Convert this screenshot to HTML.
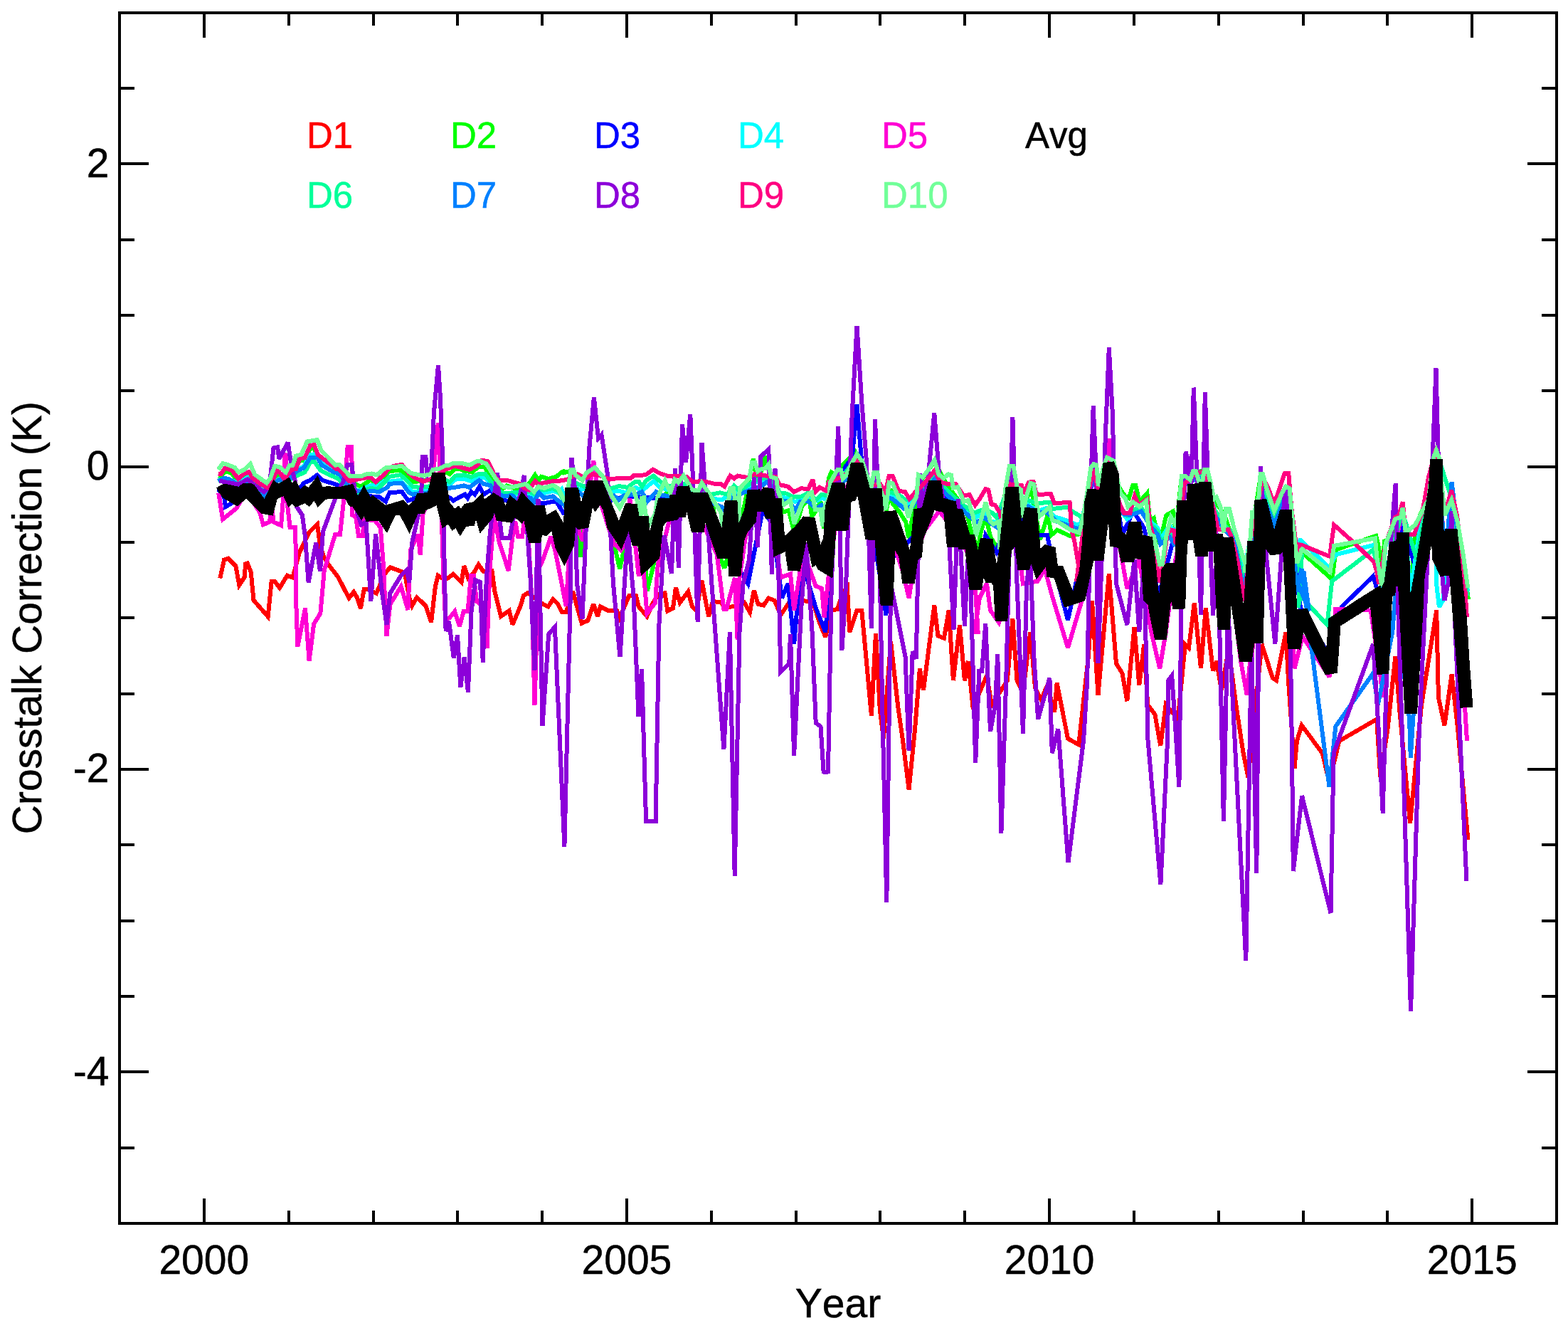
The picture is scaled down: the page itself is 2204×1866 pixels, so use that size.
<!DOCTYPE html>
<html lang="en"><head><meta charset="utf-8"><title>Crosstalk Correction</title>
<style>
html,body{margin:0;padding:0;background:#fff;}
body{width:2204px;height:1866px;overflow:hidden;}
svg{display:block;}
text{font-family:"Liberation Sans",Arial,Helvetica,sans-serif;font-kerning:none;stroke-width:0.5px;}
.t{font-size:57px;fill:#000;stroke:#000;}
.lg{font-size:51px;}
.s{fill:none;stroke-width:6;stroke-linejoin:miter;stroke-miterlimit:3;stroke-linecap:butt;}
</style></head><body>
<svg width="2204" height="1866" viewBox="0 0 2204 1866">
<rect width="2204" height="1866" fill="#fff"/>
<g class="s" shape-rendering="crispEdges">
<polyline id="D1" points="309.3,812.5 315.1,786.5 320.8,784.6 331.4,795.2 336.3,822.2 344.0,810.6 344.9,792.3 347.8,791.3 352.7,803.9 356.5,843.4 376.7,866.5 381.6,817.3 386.4,817.3 393.1,826.0 403.7,808.7 411.4,811.6 421.1,775.9 434.6,748.0 446.1,736.4 450.0,768.2 455.8,783.6 461.6,793.3 475.1,810.6 490.5,840.5 497.2,831.8 502.0,839.5 506.9,854.9 511.7,828.0 517.5,828.0 529.0,833.7 540.6,806.7 548.3,797.1 563.7,802.9 569.5,808.7 575.3,839.5 579.2,851.1 585.9,839.5 598.4,851.1 606.1,874.2 611.9,824.1 615.8,808.7 621.6,812.5 629.3,812.5 637.0,806.7 648.6,818.3 652.4,795.2 658.2,812.5 665.9,804.8 672.7,793.3 679.4,802.9 691.6,802.4 695.4,831.3 704.1,866.0 715.7,858.3 720.5,877.6 732.0,850.6 735.9,837.1 741.7,833.3 753.3,841.0 762.9,848.7 770.6,852.5 777.3,841.9 784.1,848.7 789.9,860.2 795.7,860.2 805.3,831.3 811.1,852.5 817.8,875.7 826.5,871.8 834.2,848.7 840.0,866.0 843.9,852.5 855.4,858.3 867.0,858.3 870.8,868.0 884.3,837.1 894.0,837.1 897.8,852.5 909.4,866.0 917.1,848.7 924.8,835.2 934.5,833.3 938.3,858.3 946.0,854.5 949.9,825.5 955.7,846.7 967.2,831.3 973.0,852.5 978.8,858.3 986.5,815.9 992.3,846.7 996.1,866.0 1001.9,844.8 1013.5,846.7 1019.3,854.5 1036.6,850.6 1046.3,846.7 1054.0,860.2 1059.8,829.4 1065.5,848.7 1073.3,850.6 1080.3,840.5 1088.8,843.9 1097.3,864.4 1107.6,849.0 1116.1,854.1 1129.7,843.9 1143.3,847.3 1151.8,874.6 1160.3,895.0 1168.8,857.6 1177.3,855.9 1184.1,833.7 1190.9,825.2 1194.3,888.2 1204.5,857.6 1211.3,857.6 1224.9,1005.5 1231.0,889.9 1236.8,997.0 1241.9,1037.8 1252.1,901.8 1262.3,993.6 1269.1,1041.2 1277.6,1109.6 1286.1,1024.2 1292.9,939.2 1298.0,969.8 1313.3,850.7 1318.4,893.3 1326.9,896.7 1333.7,857.6 1339.9,956.2 1349.0,878.0 1355.9,956.2 1361.0,929.0 1367.8,997.0 1376.8,973.2 1387.0,949.4 1393.8,990.2 1415.9,956.2 1423.4,869.5 1429.5,956.2 1438.0,973.2 1448.2,888.2 1455.0,966.4 1463.5,983.4 1472.0,963.0 1482.2,1000.4 1485.6,959.6 1501.0,1037.8 1516.3,1046.3 1529.9,922.2 1535.0,843.9 1543.5,976.6 1558.8,806.5 1569.0,932.4 1577.5,946.0 1584.3,985.1 1594.5,881.4 1601.3,963.0 1608.1,905.2 1613.2,990.2 1623.4,1003.8 1631.2,1048.0 1638.7,990.2 1655.7,1010.6 1665.9,905.2 1671.0,910.3 1678.8,847.3 1688.0,939.2 1694.8,854.1 1705.0,942.6 1710.1,929.0 1716.9,969.8 1727.1,912.0 1737.3,990.2 1747.6,1058.2 1754.4,1092.2 1773.6,905.2 1788.9,952.8 1794.0,956.2 1807.6,888.2 1811.0,956.2 1819.5,1080.0 1822.9,1041.2 1829.7,1019.1 1858.6,1058.2 1868.5,1098.4 1882.4,1041.2 1935.2,1010.6 1940.3,1092.2 1950.5,1024.2 1961.4,922.2 1967.5,1000.4 1982.1,1156.9 1998.1,990.2 2019.2,857.6 2021.9,980.0 2030.4,1019.1 2040.6,947.7 2049.1,1024.2 2063.4,1179.7" stroke="#ff0000"/>
<polyline id="D2" points="306.8,669.2 310.6,669.8 316.8,661.7 326.2,665.5 333.7,676.1 342.4,669.2 349.9,666.7 356.1,677.3 369.8,687.3 377.3,689.8 383.6,679.8 389.8,667.3 394.8,669.8 402.3,678.6 409.8,666.1 414.8,663.6 419.8,648.0 427.2,646.7 436.0,630.5 441.6,629.9 447.2,642.4 458.4,652.4 474.6,661.1 489.6,677.3 498.3,679.8 507.1,683.6 522.1,673.6 529.5,682.9 545.8,663.6 546.2,662.3 562.5,660.5 568.7,664.8 581.2,677.3 589.9,676.1 602.4,674.8 614.9,669.8 627.3,663.6 632.3,666.1 639.8,658.6 646.0,658.6 651.0,661.1 663.5,663.6 672.2,656.1 681.0,655.5 684.7,662.3 693.5,677.3 704.7,688.5 712.2,682.3 727.1,687.3 732.1,688.5 744.6,678.6 752.1,667.3 757.1,674.8 760.8,669.8 770.8,672.9 782.0,669.8 789.5,663.6 794.5,661.1 790.0,664.9 800.0,662.4 805.0,684.9 812.5,747.2 816.2,782.2 819.9,747.2 827.4,684.9 839.9,679.9 852.4,697.3 863.6,765.9 871.1,799.6 879.8,759.7 884.8,722.3 896.0,768.4 902.3,734.8 909.8,830.1 918.5,794.6 922.2,722.3 933.5,696.1 952.2,679.9 970.9,684.9 989.6,697.3 1002.1,709.8 1013.3,785.9 1018.3,798.4 1022.1,785.9 1027.0,697.3 1034.5,709.8 1039.5,732.3 1046.2,711.1 1053.7,671.2 1058.7,645.0 1063.7,672.4 1069.9,662.4 1076.2,641.2 1083.7,672.4 1092.4,689.9 1099.9,719.8 1108.6,717.3 1114.9,742.3 1119.8,737.3 1127.3,711.1 1137.3,699.9 1141.1,726.1 1147.3,717.3 1153.5,704.9 1158.5,742.3 1164.8,672.4 1168.5,663.7 1172.2,666.2 1177.2,661.2 1202.2,635.0 1224.6,684.9 1230.9,664.9 1239.6,692.4 1245.9,717.3 1252.1,686.1 1254.6,707.4 1264.6,719.8 1273.3,733.6 1277.0,756.0 1282.0,729.8 1289.5,698.6 1296.7,672.2 1313.5,648.1 1330.3,680.3 1350.5,707.2 1359.9,724.6 1365.2,747.5 1374.6,771.7 1378.7,747.5 1385.4,724.6 1392.1,754.2 1404.2,774.4 1413.6,684.3 1424.4,656.1 1437.8,727.3 1448.5,680.3 1462.0,758.2 1472.7,723.3 1478.1,751.5 1486.2,744.8 1503.6,752.9 1518.4,750.2 1529.2,687.0 1537.2,653.4 1543.9,684.3 1556.0,644.0 1574.8,687.8 1581.5,697.2 1586.9,699.9 1592.2,682.4 1596.3,682.4 1601.7,705.2 1612.4,693.1 1616.4,732.1 1621.8,728.1 1629.9,764.4 1639.3,724.0 1648.7,718.7 1652.7,745.5 1660.8,670.3 1680.9,663.6 1694.4,660.9 1707.8,703.9 1721.2,724.0 1737.4,772.4 1749.4,815.4 1758.8,750.9 1772.3,667.6 1791.1,716.0 1799.2,713.3 1812.6,687.8 1815.3,717.3 1823.3,793.9 1832.1,777.8 1872.4,814.1 1877.8,772.4 1934.2,752.9 1936.9,764.4 1942.3,793.9 1946.3,760.3 1951.7,759.0 1967.8,728.1 1975.9,750.9 1982.6,834.2 1990.6,736.1 2008.1,697.2 2018.8,634.0 2030.9,724.0 2040.3,703.9 2056.5,777.8 2061.8,827.5 2063.9,842.3" stroke="#00ff00"/>
<polyline id="D3" points="306.8,687.3 315.6,699.8 316.8,712.2 327.4,706.0 339.9,699.8 352.4,692.3 364.9,704.8 377.3,711.0 387.3,692.3 396.0,689.8 408.5,692.3 422.2,684.8 427.2,678.6 436.0,674.8 445.9,667.3 453.4,674.8 477.1,682.3 489.6,692.3 502.1,698.5 520.8,697.3 533.3,698.5 542.0,704.8 547.5,692.3 565.0,691.0 573.7,703.5 581.2,701.0 589.9,698.5 614.9,698.5 631.1,698.5 637.3,703.5 643.6,699.8 653.5,694.8 657.3,699.8 662.3,691.0 667.3,694.8 674.1,683.6 679.7,694.8 689.7,688.5 697.2,698.5 714.7,704.8 733.4,704.8 752.1,706.0 764.6,707.3 777.0,704.8 782.0,704.8 792.0,721.0 878.0,697.7 946.0,701.1 980.0,718.1 1014.0,752.1 1031.0,786.1 1051.4,820.1 1061.6,769.1 1071.8,718.1 1085.4,735.1 1099.0,840.5 1107.6,820.1 1116.1,905.2 1126.3,786.1 1146.7,854.1 1160.3,888.2 1170.5,752.1 1187.5,656.9 1197.7,643.3 1204.5,568.4 1211.3,650.1 1224.9,735.1 1243.6,850.7 1245.3,864.4 1252.1,786.1 1286.1,752.1 1320.1,684.1 1354.1,752.1 1374.6,786.1 1370.0,833.7 1385.3,752.1 1400.6,775.9 1424.4,701.1 1448.2,752.1 1472.0,752.1 1478.8,786.1 1501.0,871.2 1519.7,786.1 1540.1,701.1 1558.8,633.1 1577.5,752.1 1592.8,718.1 1608.1,741.9 1628.5,837.1 1642.1,786.1 1659.1,718.1 1693.1,684.1 1710.1,752.1 1730.5,786.1 1744.1,820.1 1770.2,718.1 1790.6,752.1 1807.6,701.1 1828.0,854.1 1865.4,915.4 1885.9,852.4 1930.1,809.9 1943.7,854.1 1970.9,735.1 1991.3,803.1 2018.5,633.1 2040.6,701.1 2062.7,837.1" stroke="#0000ff"/>
<polyline id="D4" points="306.8,673.6 321.2,673.6 334.9,678.6 349.9,669.8 359.9,683.6 374.8,691.0 384.8,676.1 393.6,672.9 402.3,678.6 409.8,668.6 418.5,659.8 427.2,654.9 436.0,639.3 445.3,637.4 452.2,649.9 464.7,659.8 477.1,667.3 482.1,672.9 492.1,683.6 503.3,689.8 522.1,681.7 530.8,683.6 539.5,676.1 547.5,676.7 562.5,674.8 571.2,683.6 579.9,691.0 588.7,691.0 602.4,689.8 614.9,686.0 627.3,679.8 632.3,681.1 639.8,673.6 652.3,672.9 662.3,676.1 672.2,671.1 682.2,671.1 689.7,679.8 694.7,687.3 707.2,696.0 720.9,694.8 732.1,693.5 744.6,694.8 752.1,699.8 758.3,691.0 764.6,692.9 777.0,689.8 784.5,692.3 789.5,687.3 796.2,708.6 802.5,679.9 815.0,688.6 827.4,684.9 839.9,684.9 859.9,691.1 869.8,689.8 879.8,692.3 893.6,684.9 902.3,689.8 918.5,676.1 926.0,683.6 939.7,688.6 952.2,684.9 964.7,684.9 977.1,694.8 989.6,694.8 1004.6,701.1 1014.6,702.3 1022.1,697.3 1034.5,689.8 1040.0,692.4 1053.7,682.4 1065.0,676.2 1077.4,673.7 1089.9,683.6 1098.6,698.0 1109.9,701.1 1117.4,704.9 1127.3,702.4 1137.3,697.4 1148.5,703.6 1156.0,699.9 1162.3,702.4 1171.0,677.4 1183.5,674.9 1202.2,648.7 1220.9,683.6 1239.6,693.6 1254.6,696.1 1264.6,702.4 1272.1,708.6 1283.3,704.9 1295.8,683.6 1296.7,687.0 1313.5,669.6 1330.3,691.1 1350.5,709.9 1370.6,727.3 1384.0,720.6 1392.1,732.7 1401.5,734.0 1413.6,696.4 1424.4,677.6 1437.8,704.5 1459.3,717.9 1471.4,713.9 1482.1,726.0 1499.6,731.4 1511.7,736.7 1518.4,738.1 1529.2,696.4 1537.2,669.6 1545.3,689.7 1556.0,656.1 1574.8,716.0 1584.2,729.4 1593.6,721.4 1604.3,716.0 1619.1,734.8 1627.2,741.5 1631.2,757.6 1644.6,737.5 1651.4,750.9 1660.8,681.1 1680.9,670.3 1694.4,667.6 1707.8,721.4 1721.2,741.5 1734.7,748.2 1748.1,804.7 1758.8,750.9 1772.3,686.4 1788.4,724.0 1791.1,729.4 1807.2,694.5 1815.3,726.7 1823.3,791.2 1827.4,759.0 1828.1,759.0 1868.4,797.9 1877.8,779.1 1931.5,765.7 1935.5,791.2 1942.3,826.2 1947.6,767.0 1961.1,732.1 1971.8,716.0 1975.9,750.9 1982.6,831.5 1994.7,750.9 2008.1,697.2 2018.8,635.4 2018.8,818.1 2022.9,853.0 2028.3,843.6 2040.3,705.2 2056.5,784.5 2063.2,831.5" stroke="#00ffff"/>
<polyline id="D5" points="307.3,693.0 313.1,729.6 332.4,714.2 346.1,691.1 365.2,720.0 370.0,737.3 378.7,733.5 382.5,714.2 384.5,733.5 395.1,738.3 398.0,700.7 400.3,637.1 402.2,641.0 403.7,706.5 407.6,741.2 415.3,741.2 416.3,849.2 418.4,908.5 429.0,854.6 434.6,928.6 441.1,876.9 450.4,861.7 455.8,801.0 471.2,750.8 478.0,750.8 482.8,706.5 488.6,628.4 494.3,628.4 495.3,723.9 500.1,725.8 504.0,752.8 509.8,752.8 511.7,729.6 527.1,731.6 534.8,741.2 538.7,791.3 543.5,893.5 548.3,849.2 563.7,824.1 573.4,856.9 577.2,772.0 587.8,750.8 590.7,779.8 594.6,721.9 606.1,694.9 615.8,594.0 620.0,700.0 623.0,800.0 626.0,870.0 632.0,868.0 639.2,859.0 645.9,880.0 651.7,859.0 657.5,859.0 662.0,809.0 666.0,809.0 670.0,845.0 676.0,850.0 684.5,911.0 688.5,800.0 694.5,723.0 701.2,760.0 714.7,802.0 720.5,754.0 724.3,733.0 728.2,754.0 734.0,754.0 737.8,725.0 743.0,760.0 748.0,854.0 751.5,991.0 757.0,800.0 762.9,787.0 774.5,754.0 780.2,773.0 788.0,812.0 795.7,852.0 798.6,802.0 803.0,700.0 815.0,750.0 819.0,760.0 827.0,700.0 834.2,647.0 842.0,700.0 863.0,764.0 872.8,773.0 878.5,764.0 885.3,700.0 893.9,773.0 897.8,810.0 902.0,770.0 909.4,862.0 921.0,847.0 924.8,793.0 940.0,735.0 960.0,700.0 990.0,740.0 1007.7,779.0 1017.4,856.0 1021.0,856.0 1033.0,812.0 1036.6,899.0 1039.5,812.0 1048.0,754.0 1065.0,715.0 1082.0,704.8 1097.3,811.6 1111.0,806.5 1116.1,857.6 1124.6,803.1 1133.1,786.1 1146.7,823.5 1155.2,826.9 1158.6,867.8 1165.4,803.1 1177.3,718.1 1197.7,667.1 1204.5,650.1 1218.1,684.1 1231.7,735.1 1252.1,752.1 1269.1,803.1 1277.6,840.5 1286.1,786.1 1299.7,745.3 1320.1,718.1 1347.3,752.1 1364.4,786.1 1371.2,830.3 1374.6,888.2 1370.0,888.2 1376.8,840.5 1387.0,820.1 1392.1,857.6 1404.0,874.6 1410.8,854.1 1424.4,718.1 1438.0,820.1 1458.4,816.7 1468.6,799.7 1478.8,837.1 1501.0,910.3 1519.7,847.3 1540.1,752.1 1558.8,616.1 1574.1,769.1 1584.3,826.9 1601.3,786.1 1618.3,888.2 1630.2,939.2 1638.7,888.2 1652.3,786.1 1676.1,684.1 1710.1,752.1 1730.5,820.1 1744.1,929.0 1752.7,976.6 1757.8,922.2 1760.0,922.2 1770.2,718.1 1790.6,765.0 1807.6,718.1 1819.5,939.2 1828.0,905.2 1831.4,895.0 1868.8,951.1 1877.3,855.9 1926.7,857.6 1940.3,949.4 1943.7,980.0 1950.5,820.1 1970.9,718.1 1991.3,786.1 2004.9,718.1 2018.5,626.3 2032.1,786.1 2040.6,690.9 2059.3,997.0 2062.0,1041.2" stroke="#ff00d4"/>
<polyline id="D6" points="306.8,674.8 321.2,674.8 334.9,679.8 349.9,672.3 359.9,684.8 374.8,692.3 384.8,677.3 393.6,674.8 402.3,679.8 409.8,672.3 419.8,667.3 428.5,663.6 436.0,649.9 441.6,648.6 450.9,661.1 463.4,667.3 477.1,673.6 480.9,681.1 492.1,687.3 503.3,692.3 520.8,686.0 530.8,687.3 539.5,678.6 547.5,669.8 562.5,667.3 568.7,672.3 579.9,683.6 588.7,684.8 602.4,683.6 614.9,679.8 627.3,674.8 632.3,677.3 639.8,668.6 652.3,667.3 662.3,670.5 672.2,666.1 682.2,666.1 689.7,676.1 694.7,683.6 707.2,693.5 720.9,692.3 732.1,691.0 744.6,691.0 752.1,694.8 758.3,687.3 764.6,688.5 777.0,686.0 784.5,689.8 793.3,704.8 796.2,704.8 802.5,672.4 808.7,678.6 821.2,683.6 839.9,679.9 859.9,686.1 869.8,683.0 882.3,684.9 892.3,677.4 898.5,677.4 902.3,683.6 908.5,674.9 918.5,668.6 929.7,678.0 939.7,683.6 952.2,679.9 964.7,679.9 977.1,689.8 989.6,689.8 999.6,694.8 1012.1,692.3 1022.1,694.8 1032.0,682.4 1040.0,689.9 1053.7,679.9 1065.0,673.7 1077.4,671.2 1089.9,679.9 1096.1,692.4 1106.1,693.6 1114.9,698.6 1127.3,697.4 1136.1,692.4 1147.3,702.4 1154.8,694.9 1162.3,696.1 1171.0,673.7 1183.5,671.2 1202.2,645.0 1220.9,679.9 1239.6,689.9 1254.6,692.4 1264.6,696.1 1272.1,702.4 1283.3,699.9 1295.8,679.9 1296.7,684.3 1313.5,666.9 1330.3,688.4 1350.5,707.2 1369.3,720.6 1384.0,715.2 1394.8,720.6 1401.5,727.3 1413.6,693.7 1424.4,673.6 1437.8,700.5 1457.9,707.2 1475.4,705.8 1478.1,715.2 1500.9,712.6 1506.3,717.9 1519.7,726.0 1522.4,734.0 1529.2,693.7 1537.2,666.9 1545.3,687.0 1556.0,653.4 1574.8,713.3 1584.2,724.0 1593.6,716.0 1604.3,713.3 1617.8,737.5 1627.2,745.5 1631.2,761.7 1644.6,750.9 1651.4,764.4 1660.8,677.0 1680.9,667.6 1694.4,664.9 1707.8,717.3 1721.2,737.5 1734.7,750.9 1748.1,818.1 1758.8,750.9 1772.3,683.7 1791.1,724.0 1807.2,690.5 1815.3,724.0 1823.3,804.7 1830.1,777.8 1824.6,854.1 1828.0,837.1 1865.4,878.0 1872.2,816.7 1930.1,772.5 1943.7,820.1 1970.9,718.1 1991.3,786.1 2018.5,633.1 2040.6,701.1 2062.7,837.1" stroke="#00ff99"/>
<polyline id="D7" points="306.8,676.1 315.0,671.7 321.2,672.9 334.9,681.1 349.9,674.8 359.9,686.0 372.3,698.5 384.8,678.6 393.6,673.6 402.3,679.8 409.8,669.8 418.5,661.1 427.2,657.4 436.0,643.0 445.9,642.4 452.2,653.6 464.7,661.1 478.4,667.3 482.1,673.6 492.1,686.0 502.1,689.8 512.1,692.3 520.8,689.8 533.3,691.0 544.5,684.8 547.5,679.8 565.0,678.6 574.9,692.3 579.9,694.8 587.4,693.5 602.4,692.3 614.9,689.8 629.8,686.0 643.6,684.2 652.3,682.3 659.8,684.8 673.5,674.8 679.7,679.8 689.7,682.3 693.5,689.8 707.2,697.3 719.7,696.0 727.1,702.3 734.6,697.3 745.9,699.8 750.8,706.0 757.1,692.3 764.6,699.8 777.0,697.3 784.5,703.5 793.3,709.8 796.2,716.0 802.5,689.8 813.7,691.1 818.7,696.1 827.4,691.1 839.9,691.1 862.4,696.1 869.8,702.3 877.3,696.1 893.6,694.8 902.3,691.1 909.8,704.8 922.2,691.1 927.2,694.8 939.7,697.3 952.2,691.1 964.7,691.1 977.1,699.8 989.6,701.1 1002.1,707.3 1014.6,712.3 1018.3,717.3 1027.0,699.8 1034.5,697.3 1040.0,694.9 1047.5,691.1 1071.2,682.4 1077.4,677.4 1089.9,687.4 1099.9,703.6 1109.9,704.9 1117.4,717.3 1124.8,704.9 1134.8,703.6 1147.3,714.8 1154.8,709.8 1159.8,714.8 1171.0,682.4 1183.5,679.9 1202.2,655.0 1220.9,687.4 1239.6,697.4 1254.6,701.1 1264.6,709.8 1270.8,714.8 1283.3,711.1 1295.8,687.4 1296.7,693.7 1313.5,673.6 1329.0,693.7 1350.5,712.6 1357.2,720.6 1372.0,734.0 1384.0,727.3 1394.8,736.7 1402.9,742.1 1413.6,700.5 1424.4,680.3 1437.8,707.2 1460.6,720.6 1471.4,719.3 1484.8,732.7 1500.9,738.1 1515.7,743.5 1522.4,736.7 1529.2,700.5 1537.2,673.6 1545.3,693.7 1556.0,660.2 1574.8,718.7 1580.2,722.7 1588.2,724.0 1604.3,718.7 1617.8,740.2 1627.2,750.9 1631.2,764.4 1644.6,755.0 1651.4,767.0 1660.8,683.7 1680.9,673.0 1694.4,670.3 1707.8,724.0 1721.2,744.2 1734.7,757.6 1748.1,831.5 1758.8,757.6 1772.3,690.5 1791.1,737.5 1807.2,697.2 1815.3,730.8 1823.3,831.5 1828.7,802.0 1832.7,804.7 1840.0,858.4 1824.6,820.1 1829.7,799.7 1845.0,922.2 1868.5,1105.9 1877.3,1020.8 1930.1,946.0 1936.9,990.2 1957.3,888.2 1962.4,820.1 1970.9,922.2 1981.1,1010.6 1982.8,1065.0 1986.2,1010.6 1998.1,820.1 2018.5,633.1 2032.1,786.1 2040.6,677.3 2059.3,837.1" stroke="#0080ff"/>
<polyline id="D8" points="308.3,675.7 334.3,680.5 347.8,673.7 357.5,681.4 371.0,691.1 378.7,683.4 384.5,629.4 390.2,628.4 392.2,644.8 404.7,621.7 410.5,660.2 415.3,677.6 417.2,712.3 424.9,723.9 428.8,752.8 433.6,818.3 444.2,762.4 450.0,802.9 453.9,747.0 471.2,700.7 482.8,675.7 488.6,652.5 494.3,652.5 496.3,668.0 502.0,720.0 507.8,737.3 514.6,733.5 521.3,845.3 528.1,749.9 536.7,829.9 543.5,878.1 548.3,833.7 563.7,808.7 571.4,801.0 575.3,818.3 579.2,762.4 588.8,720.0 592.7,683.4 593.6,641.9 598.4,641.9 600.4,668.0 606.1,660.2 610.0,579.3 613.5,540.0 616.0,513.0 619.0,560.0 622.0,640.0 624.0,760.0 626.6,887.0 631.0,873.0 637.8,925.0 643.0,892.0 647.4,966.0 652.7,923.0 657.9,973.0 662.5,860.0 668.2,815.0 675.2,818.0 678.7,931.0 684.0,810.0 688.6,752.0 694.0,700.0 699.3,664.0 703.0,735.0 705.5,756.0 716.6,756.0 720.5,733.0 730.0,700.0 736.9,668.0 741.7,754.0 745.5,812.0 751.5,942.0 756.5,701.0 762.5,1020.0 771.2,891.0 779.9,881.0 793.4,1190.0 801.7,840.0 803.5,643.0 807.7,684.0 811.0,820.0 818.5,870.0 824.7,718.0 828.0,633.0 834.9,558.0 841.0,616.0 845.5,611.0 853.6,664.0 862.0,820.0 871.5,923.0 882.5,745.0 890.7,840.0 897.5,1007.0 902.0,940.0 908.1,1154.0 921.6,1154.0 926.4,878.0 933.5,752.0 944.0,806.0 949.0,658.0 953.8,798.0 959.0,596.0 964.0,650.0 970.3,582.0 974.4,684.0 980.6,874.0 986.5,622.0 993.6,718.1 1000.4,820.1 1017.4,1053.1 1025.9,888.2 1032.7,1230.7 1039.5,888.2 1044.6,820.1 1053.1,786.1 1059.9,670.5 1065.0,769.1 1069.1,641.6 1080.3,631.4 1082.0,684.1 1084.8,806.5 1089.5,658.6 1093.9,786.1 1097.3,944.3 1109.3,932.4 1111.0,891.6 1116.1,1061.6 1126.3,854.1 1133.1,762.3 1141.6,888.2 1146.7,1015.7 1153.5,1020.8 1157.6,1084.4 1160.3,1085.4 1164.0,1084.4 1168.8,820.1 1174.6,684.1 1178.3,599.0 1183.4,913.7 1189.2,820.1 1197.7,582.0 1204.5,457.9 1211.3,565.0 1218.1,650.1 1224.9,883.1 1230.0,588.8 1235.1,718.1 1240.2,990.2 1246.3,1268.1 1252.1,820.1 1262.3,871.2 1272.5,922.2 1277.6,1054.8 1282.7,915.4 1287.8,925.6 1292.9,665.4 1298.0,718.1 1306.5,650.1 1313.3,580.3 1320.1,667.1 1333.7,752.1 1340.5,884.8 1346.7,701.1 1355.9,879.7 1360.3,786.1 1364.4,820.1 1371.2,1071.8 1376.3,942.6 1380.2,942.6 1385.3,876.3 1388.7,956.2 1392.1,1027.6 1398.9,990.2 1402.3,918.8 1407.4,1171.2 1414.2,956.2 1417.6,820.1 1423.4,586.1 1426.1,684.1 1429.5,820.1 1438.0,1031.0 1443.1,820.1 1448.2,779.3 1453.3,922.2 1459.1,1010.6 1475.4,952.8 1478.8,1058.2 1487.3,1024.2 1501.5,1212.0 1523.1,1039.9 1528.2,956.2 1533.3,684.1 1536.7,570.1 1540.1,650.1 1543.5,932.4 1548.6,786.1 1553.7,616.1 1558.8,488.5 1563.9,582.0 1569.0,820.1 1584.3,878.0 1594.5,786.1 1601.3,888.2 1608.1,786.1 1613.5,1039.9 1631.4,1242.6 1641.1,1039.9 1642.1,956.2 1647.2,949.4 1652.3,1024.2 1657.4,1105.9 1660.8,820.1 1666.6,634.8 1671.0,650.1 1672.7,752.1 1677.8,544.6 1682.9,684.1 1688.0,864.4 1693.8,551.4 1698.2,684.1 1705.0,864.4 1710.1,786.1 1714.2,881.4 1719.9,1154.1 1726.1,852.1 1751.3,1350.1 1759.1,905.2 1766.3,1226.9 1770.0,799.7 1766.8,1092.2 1769.5,752.1 1771.9,655.2 1775.3,718.1 1780.4,786.1 1792.3,905.2 1800.8,786.1 1805.9,684.1 1811.0,718.1 1815.8,1039.9 1817.8,1224.2 1830.1,1118.1 1870.5,1283.1 1874.6,1058.2 1930.1,905.2 1933.5,956.2 1938.6,1039.9 1943.7,1142.9 1946.4,1039.9 1948.8,956.2 1955.6,752.1 1961.7,679.0 1964.1,820.1 1971.2,1039.9 1983.0,1420.8 1994.4,1039.9 1998.1,956.2 2004.9,820.1 2013.4,650.1 2018.5,517.4 2021.9,650.1 2025.3,786.1 2030.4,843.9 2035.5,820.1 2040.6,718.1 2045.7,888.2 2061.4,1237.8" stroke="#8c00d9"/>
<polyline id="D9" points="306.8,665.5 310.6,666.1 316.2,657.6 326.2,661.1 334.9,672.9 342.4,666.1 349.9,663.0 354.9,671.7 367.4,681.1 376.1,685.4 382.3,677.3 389.8,659.8 399.8,673.6 409.8,659.8 416.0,659.2 421.0,644.9 428.5,643.0 436.0,626.2 441.6,624.9 446.6,638.6 472.1,658.6 475.9,658.6 490.9,676.1 497.1,674.8 508.3,672.3 520.8,670.5 527.7,677.3 539.5,667.3 545.0,659.8 552.5,654.9 565.0,653.0 574.9,664.8 581.2,670.5 594.9,676.7 604.9,673.6 614.9,667.3 626.1,659.8 632.3,657.4 639.8,654.9 649.8,657.4 659.8,659.8 669.8,654.9 677.2,646.7 686.0,648.4 691.0,658.6 697.2,672.3 703.4,675.4 714.7,675.4 720.9,677.3 730.9,679.8 737.1,686.0 743.4,688.5 752.1,676.1 757.1,681.1 763.3,678.6 777.0,676.1 789.5,675.4 797.5,673.6 811.2,666.1 818.7,669.9 824.9,671.1 832.4,666.1 843.6,668.6 857.4,673.6 869.8,671.8 886.1,672.4 891.1,668.0 907.3,667.4 917.9,659.7 927.2,664.9 939.7,669.3 952.2,668.6 964.7,669.9 974.6,677.4 984.6,676.1 994.6,677.4 1004.6,679.9 1013.3,679.9 1018.3,683.6 1026.4,668.6 1032.0,672.4 1037.0,668.6 1040.0,669.3 1052.5,671.2 1060.0,666.2 1071.2,667.4 1077.4,668.7 1089.9,669.9 1096.1,681.2 1107.4,683.6 1116.1,691.1 1126.1,686.1 1136.1,687.4 1142.3,673.7 1146.0,691.1 1152.3,684.9 1161.6,689.9 1164.8,677.4 1183.5,669.9 1191.0,664.9 1202.2,645.0 1219.7,672.4 1224.6,682.4 1237.1,679.9 1244.6,691.1 1249.6,668.7 1254.6,668.7 1263.3,689.9 1272.1,691.1 1278.3,701.1 1285.8,692.4 1295.8,682.4 1296.7,681.7 1304.8,672.2 1313.5,661.5 1320.9,676.3 1331.7,680.3 1343.7,680.3 1354.5,696.4 1362.6,695.1 1370.6,709.9 1377.3,700.5 1385.4,687.0 1389.4,688.4 1393.5,708.5 1398.8,709.9 1405.5,720.6 1408.2,735.4 1412.3,700.5 1419.0,680.3 1431.1,681.7 1435.8,681.7 1439.1,693.7 1445.9,677.6 1452.6,676.9 1456.6,693.7 1462.0,695.1 1476.8,693.7 1482.1,707.2 1503.6,705.8 1506.3,744.8 1510.3,760.9 1517.1,801.2 1513.0,817.4 1522.4,747.5 1529.2,693.7 1537.2,660.2 1543.9,687.0 1550.7,666.9 1556.0,648.1 1574.8,710.6 1580.2,721.4 1588.2,721.4 1594.9,697.2 1600.3,709.3 1612.4,701.2 1616.4,734.8 1623.1,764.4 1629.9,818.1 1635.2,791.2 1640.6,750.9 1644.6,744.2 1650.0,745.5 1652.7,764.4 1664.8,679.7 1680.9,664.9 1694.4,662.2 1707.8,724.0 1711.8,744.2 1726.6,744.2 1730.6,753.6 1740.0,791.2 1749.4,845.0 1757.5,759.0 1769.6,699.9 1775.0,670.3 1781.7,683.7 1791.1,707.9 1805.9,664.9 1811.2,664.9 1815.3,713.3 1823.3,777.8 1827.4,763.0 1827.4,765.0 1869.0,781.8 1875.1,737.5 1900.6,760.3 1931.5,789.9 1935.5,804.7 1938.2,820.8 1947.6,764.4 1961.1,726.7 1966.4,724.0 1971.8,705.2 1975.9,750.9 1987.9,750.9 2000.0,716.0 2008.1,670.3 2018.8,630.0 2030.9,721.4 2040.3,689.1 2048.4,726.7 2059.2,826.2 2061.8,867.0" stroke="#ff0080"/>
<polyline id="D10" points="306.8,659.8 313.1,651.1 318.7,652.4 329.9,657.0 335.5,663.6 343.6,659.8 351.8,651.7 358.0,666.7 374.8,678.6 379.8,672.3 386.1,654.9 392.9,656.1 401.7,663.6 406.7,654.2 411.6,653.6 416.0,640.5 423.5,638.6 431.6,620.5 438.5,619.3 445.9,618.1 451.6,633.0 471.5,653.6 477.1,653.0 492.1,669.2 508.3,668.8 515.8,666.1 522.1,665.5 529.5,667.3 542.0,657.4 552.5,656.1 565.0,654.9 577.4,664.8 594.9,668.6 604.9,666.1 608.6,659.8 617.4,658.6 627.3,653.6 631.1,653.6 637.3,650.5 648.5,650.5 657.3,653.0 661.0,653.0 669.8,648.4 674.7,648.0 683.5,651.7 695.9,671.1 703.4,681.1 708.4,684.2 717.2,684.8 732.1,681.7 738.4,679.8 750.8,691.0 757.1,683.6 764.6,686.0 777.0,681.7 784.5,686.0 793.3,703.5 796.2,702.3 802.5,659.9 806.2,659.9 808.7,667.4 818.7,674.9 823.7,664.9 836.2,656.8 848.6,671.1 859.9,697.3 871.1,713.6 886.1,686.7 890.4,687.4 897.3,709.8 900.4,726.0 901.7,699.8 904.8,699.2 907.3,722.3 913.5,734.8 921.0,722.3 924.1,699.8 934.7,675.5 942.2,692.3 948.4,673.6 953.4,678.0 960.9,668.0 972.1,687.4 980.9,691.1 986.5,678.6 995.9,692.3 1013.3,719.8 1015.8,739.8 1023.3,709.8 1026.4,686.1 1030.8,686.1 1034.5,709.8 1038.9,733.5 1039.5,691.1 1040.0,686.1 1053.7,671.2 1056.8,650.0 1061.2,650.0 1065.0,662.4 1069.9,659.3 1076.2,658.1 1080.5,652.5 1083.7,669.9 1091.2,672.4 1093.6,689.9 1101.1,709.8 1111.1,702.4 1116.1,736.0 1127.3,707.4 1137.3,693.6 1141.1,691.8 1146.0,716.1 1152.9,716.1 1156.7,739.8 1159.8,709.8 1164.8,699.9 1167.3,677.4 1177.2,659.9 1182.2,660.6 1184.7,672.4 1189.7,667.4 1198.4,648.7 1204.7,638.1 1212.2,648.7 1224.6,684.9 1228.4,664.3 1233.4,664.3 1235.9,683.6 1242.1,699.9 1245.2,716.1 1249.6,678.0 1254.6,679.3 1263.3,699.9 1272.1,707.4 1277.0,727.3 1282.0,709.8 1288.3,697.4 1290.8,667.4 1296.7,670.9 1304.8,660.2 1313.5,646.7 1319.6,666.9 1326.3,672.2 1333.0,666.2 1337.0,667.5 1339.7,685.7 1346.4,684.3 1354.5,704.5 1361.2,703.1 1367.9,726.0 1372.0,752.9 1378.7,731.4 1385.4,705.8 1392.1,732.7 1396.1,736.7 1404.2,732.7 1405.5,771.7 1413.6,684.3 1419.0,654.8 1424.4,654.8 1429.7,684.3 1435.1,688.4 1437.8,727.3 1441.8,700.5 1448.5,679.0 1453.2,680.3 1456.6,704.5 1460.6,726.0 1475.4,712.6 1479.4,731.4 1486.2,732.7 1505.0,744.8 1517.1,748.8 1522.4,727.3 1529.2,685.7 1533.2,657.5 1537.2,652.1 1541.2,653.4 1543.9,683.0 1550.7,657.5 1556.0,642.7 1565.4,647.5 1574.8,693.1 1581.5,699.9 1585.5,712.0 1592.2,705.2 1601.7,712.0 1611.1,703.9 1613.7,734.8 1616.4,749.6 1621.8,753.6 1629.9,792.6 1633.9,792.6 1639.3,753.6 1646.0,726.7 1652.7,737.5 1658.1,702.6 1660.8,669.0 1666.1,669.0 1672.9,674.3 1676.9,662.2 1680.9,662.2 1685.0,675.7 1690.3,675.7 1693.0,659.6 1697.0,659.6 1701.1,675.7 1706.4,701.2 1709.8,698.5 1715.9,713.3 1719.9,748.2 1723.2,714.6 1727.9,714.6 1734.7,742.9 1750.8,793.9 1749.4,804.7 1757.5,756.3 1760.2,720.0 1762.9,720.0 1769.6,697.2 1771.6,666.3 1775.0,666.3 1781.7,690.5 1791.1,717.3 1801.8,693.1 1807.2,683.7 1812.6,686.4 1815.3,716.0 1823.3,791.2 1830.1,772.4 1828.1,769.7 1869.7,803.3 1875.1,767.0 1932.9,756.3 1935.5,784.5 1942.3,823.5 1947.6,764.4 1954.4,746.9 1961.1,729.4 1969.1,726.7 1971.8,713.3 1975.9,748.2 1989.3,737.5 2008.1,701.2 2014.8,643.4 2018.8,632.7 2022.9,643.4 2030.9,724.0 2040.3,702.6 2048.4,732.1 2056.5,777.8 2063.2,826.2" stroke="#70ff98"/>
<polygon id="Avg" points="304.0,685.4 313.1,680.4 318.7,680.2 335.5,683.9 341.2,679.2 353.6,679.2 357.4,681.1 371.7,701.0 384.2,674.2 389.8,678.6 392.3,679.2 406.7,670.5 410.4,678.6 415.4,674.4 422.2,687.0 428.5,681.7 433.5,685.0 446.6,668.0 453.4,683.8 460.9,683.3 477.1,684.2 495.9,679.8 503.3,696.7 511.4,681.1 520.8,698.5 523.3,695.4 542.0,709.8 566.8,702.3 574.3,709.8 582.4,702.9 586.2,692.9 601.1,692.3 607.4,664.2 625.5,664.2 632.3,706.0 639.2,714.7 644.8,710.4 647.9,714.7 652.9,707.9 656.7,707.0 664.8,705.4 678.5,692.3 681.0,701.6 693.5,692.3 707.2,700.4 710.3,711.0 716.5,695.4 727.1,704.1 732.8,690.4 750.8,709.8 765.8,709.8 768.3,723.5 781.4,716.0 792.0,734.7 794.5,685.4 795.0,685.2 813.1,685.2 816.8,706.1 826.2,674.6 846.8,674.6 869.8,731.6 879.2,707.1 895.4,707.9 898.5,724.8 911.6,724.8 913.5,745.4 925.4,700.1 941.0,700.1 941.6,695.5 949.7,694.8 951.6,683.6 969.0,682.4 970.9,691.1 979.6,692.3 994.6,691.7 1014.6,741.6 1018.9,702.9 1036.4,702.9 1038.3,734.8 1046.2,716.1 1050.6,688.4 1068.1,687.4 1069.3,689.9 1073.1,684.3 1088.0,686.8 1089.9,699.9 1098.6,700.5 1103.0,752.9 1117.4,739.8 1129.2,725.4 1145.4,727.3 1153.5,764.7 1157.3,756.0 1159.8,711.1 1169.8,678.0 1187.2,678.0 1188.5,686.1 1195.9,650.3 1213.4,650.3 1222.8,686.1 1239.6,685.5 1242.1,718.6 1259.6,717.1 1278.9,772.9 1284.5,715.5 1296.0,713.2 1305.5,675.2 1322.9,675.2 1326.3,699.8 1343.7,704.5 1345.8,715.2 1353.1,715.2 1363.2,750.8 1369.9,751.5 1374.6,772.3 1378.0,756.2 1395.5,756.9 1397.8,774.4 1400.8,793.2 1403.9,774.4 1413.6,684.3 1431.7,684.3 1436.4,732.7 1440.5,713.2 1457.9,713.9 1462.6,771.4 1468.7,765.0 1483.5,769.0 1486.8,794.5 1494.2,795.2 1508.3,830.8 1517.1,801.2 1521.1,760.9 1524.5,704.5 1528.5,687.0 1545.3,687.7 1550.7,650.1 1565.4,648.3 1566.0,648.8 1572.8,665.6 1574.8,705.2 1576.8,746.9 1582.8,750.9 1586.9,733.2 1603.7,733.2 1606.4,751.6 1619.8,754.3 1623.1,777.8 1629.2,836.9 1632.6,799.3 1639.3,790.6 1651.4,791.2 1654.0,703.2 1667.5,703.2 1669.5,680.4 1685.0,679.0 1685.6,677.0 1702.4,677.0 1710.5,749.6 1718.5,750.2 1719.9,755.0 1733.3,754.3 1748.1,850.3 1753.5,760.3 1762.2,759.7 1763.5,702.6 1780.3,700.9 1791.1,744.2 1799.2,716.0 1815.9,716.0 1823.3,855.7 1837.5,855.4 1864.3,910.2 1866.4,883.3 1867.0,869.2 1906.0,843.7 1940.2,822.2 1941.6,826.2 1945.6,818.1 1953.0,761.7 1962.4,759.7 1963.1,748.2 1980.6,748.2 1982.6,835.6 1994.7,764.4 2008.1,683.7 2010.1,645.0 2027.6,645.0 2029.6,748.2 2031.6,742.9 2048.4,742.9 2056.5,820.8 2061.8,867.2 2065.9,934.4 2069.9,985.4 2069.9,993.5 2052.4,994.8 2037.7,813.4 2037.0,808.7 2024.2,810.0 2013.5,786.5 2012.1,764.4 2008.1,787.2 2002.7,808.7 2000.0,867.2 1992.0,1002.9 1974.5,1002.9 1965.1,823.5 1962.4,823.5 1961.1,836.9 1957.0,837.6 1952.3,947.1 1935.5,947.8 1927.5,867.2 1926.1,853.1 1884.5,879.3 1879.8,945.8 1863.0,948.5 1832.1,888.0 1832.1,888.0 1828.0,912.6 1809.9,911.5 1803.2,775.1 1800.5,778.5 1785.7,780.5 1779.0,771.1 1775.6,903.5 1763.5,904.1 1759.5,929.7 1742.1,929.7 1730.6,850.4 1728.6,884.9 1711.8,884.9 1709.1,849.7 1705.8,775.1 1698.4,775.1 1697.7,781.8 1680.2,781.8 1676.9,759.0 1670.2,759.0 1668.8,769.7 1666.1,855.4 1648.7,856.4 1646.0,843.7 1639.9,898.8 1623.1,898.8 1615.1,860.5 1613.7,850.3 1607.0,843.6 1603.7,785.9 1594.9,785.2 1593.6,789.9 1576.1,790.6 1571.4,769.7 1560.1,767.6 1558.0,732.7 1551.3,787.8 1537.2,787.8 1525.1,844.2 1496.2,853.6 1481.5,812.6 1471.4,810.6 1470.0,796.5 1456.6,814.7 1449.2,791.8 1447.2,800.6 1430.4,800.6 1426.4,768.3 1421.7,774.4 1416.3,873.1 1398.8,873.1 1396.1,822.7 1393.5,819.4 1385.4,818.7 1382.7,811.3 1380.0,828.8 1362.6,828.8 1356.5,772.3 1347.8,772.3 1346.4,769.0 1331.0,769.0 1326.3,719.9 1313.5,717.3 1307.5,734.0 1298.1,756.9 1296.0,782.4 1290.1,787.2 1285.8,819.6 1268.3,819.6 1263.3,782.8 1258.3,773.5 1255.2,851.3 1237.7,851.3 1229.6,759.1 1216.5,758.3 1205.3,696.7 1202.2,703.6 1196.6,704.9 1192.8,745.4 1175.4,746.0 1170.4,812.8 1149.8,800.3 1146.7,794.1 1141.7,797.8 1133.6,759.8 1124.8,802.8 1107.4,801.5 1103.6,775.3 1087.4,782.8 1083.0,729.2 1076.2,728.6 1073.1,719.2 1064.3,719.2 1062.5,733.6 1050.6,748.5 1046.2,759.8 1041.4,809.6 1024.5,809.6 1022.7,784.7 1008.3,784.7 991.5,734.8 989.6,747.9 972.1,748.5 965.3,719.2 964.0,726.7 954.7,726.7 952.8,730.4 936.6,733.5 932.2,739.8 927.2,784.7 901.0,809.6 896.7,766.6 888.6,766.6 883.6,747.2 873.6,772.8 853.6,742.2 847.4,716.0 843.6,709.8 836.2,719.8 833.0,712.9 827.4,741.6 813.1,744.1 809.3,741.0 806.8,767.2 793.1,795.9 793.3,795.2 780.8,770.9 775.2,745.9 768.3,752.8 762.1,752.2 760.2,762.8 743.4,763.4 736.5,732.2 733.4,735.9 724.0,727.2 719.7,734.7 697.8,731.6 694.7,720.4 692.8,727.8 674.7,749.7 669.1,730.3 666.6,739.1 655.4,739.7 646.7,753.4 640.4,742.2 635.4,745.9 629.8,736.6 621.7,742.8 613.6,710.4 598.6,717.2 596.8,722.2 587.4,722.2 575.6,749.7 561.8,723.5 556.2,723.5 543.9,749.0 532.0,731.6 514.6,732.8 511.4,726.0 508.3,731.6 495.9,712.6 490.9,711.0 485.2,701.0 467.2,701.0 458.4,701.6 446.6,712.9 441.6,704.1 434.7,712.0 428.5,707.3 415.4,712.9 410.4,707.9 405.4,712.9 398.5,697.3 389.8,700.8 383.6,724.7 367.4,721.6 346.1,700.4 333.7,711.6 313.1,699.5 306.2,689.8" fill="#000" stroke="none"/>
</g>
<g stroke="#000" stroke-width="4" fill="none" shape-rendering="crispEdges">
<rect x="168" y="18" width="2020" height="1700.5"/>
<path d="M286.8,1718.5v-35M286.8,18v35M405.6,1718.5v-18M405.6,18v18M524.5,1718.5v-18M524.5,18v18M643.3,1718.5v-18M643.3,18v18M762.1,1718.5v-18M762.1,18v18M880.9,1718.5v-35M880.9,18v35M999.8,1718.5v-18M999.8,18v18M1118.6,1718.5v-18M1118.6,18v18M1237.4,1718.5v-18M1237.4,18v18M1356.2,1718.5v-18M1356.2,18v18M1475.1,1718.5v-35M1475.1,18v35M1593.9,1718.5v-18M1593.9,18v18M1712.7,1718.5v-18M1712.7,18v18M1831.5,1718.5v-18M1831.5,18v18M1950.4,1718.5v-18M1950.4,18v18M2069.2,1718.5v-35M2069.2,18v35M168,1612.5h21M2188,1612.5h-21M168,1506.2h41M2188,1506.2h-41M168,1399.9h21M2188,1399.9h-21M168,1293.6h21M2188,1293.6h-21M168,1187.2h21M2188,1187.2h-21M168,1080.9h41M2188,1080.9h-41M168,974.6h21M2188,974.6h-21M168,868.2h21M2188,868.2h-21M168,761.9h21M2188,761.9h-21M168,655.6h41M2188,655.6h-41M168,549.3h21M2188,549.3h-21M168,443.0h21M2188,443.0h-21M168,336.6h21M2188,336.6h-21M168,230.3h41M2188,230.3h-41M168,124.0h21M2188,124.0h-21"/>
</g>
<g class="t">
<text x="286.8" y="1790" text-anchor="middle">2000</text>
<text x="880.9" y="1790" text-anchor="middle">2005</text>
<text x="1475.1" y="1790" text-anchor="middle">2010</text>
<text x="2069.2" y="1790" text-anchor="middle">2015</text>
<text x="153.5" y="248.8" text-anchor="end">2</text>
<text x="153.5" y="674.1" text-anchor="end">0</text>
<text x="153.5" y="1099.4" text-anchor="end">-2</text>
<text x="153.5" y="1524.7" text-anchor="end">-4</text>
<text x="1178.0" y="1851" text-anchor="middle">Year</text>
<text transform="translate(58,868.2) rotate(-90)" text-anchor="middle">Crosstalk Correction (K)</text>
</g>
<g class="lg">
<text x="431" y="208" fill="#ff0000" stroke="#ff0000">D1</text>
<text x="633" y="208" fill="#00ff00" stroke="#00ff00">D2</text>
<text x="835" y="208" fill="#0000ff" stroke="#0000ff">D3</text>
<text x="1037" y="208" fill="#00ffff" stroke="#00ffff">D4</text>
<text x="1239" y="208" fill="#ff00d4" stroke="#ff00d4">D5</text>
<text x="1441" y="208" fill="#000000" stroke="#000000">Avg</text>
<text x="431" y="292" fill="#00ff99" stroke="#00ff99">D6</text>
<text x="633" y="292" fill="#0080ff" stroke="#0080ff">D7</text>
<text x="835" y="292" fill="#8c00d9" stroke="#8c00d9">D8</text>
<text x="1037" y="292" fill="#ff0080" stroke="#ff0080">D9</text>
<text x="1239" y="292" fill="#70ff98" stroke="#70ff98">D10</text>
</g>
</svg>
</body></html>
